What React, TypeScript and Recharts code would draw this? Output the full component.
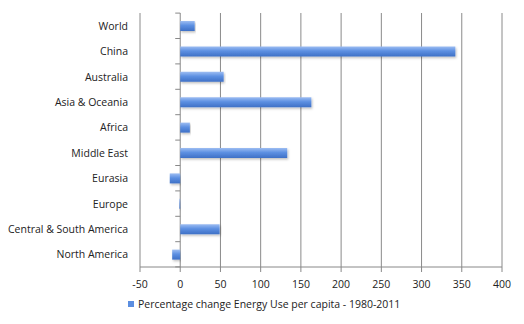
import React from "react";
import {
  BarChart,
  Bar,
  XAxis,
  YAxis,
  CartesianGrid,
  Legend,
} from "recharts";

const regions = [
  "World",
  "China",
  "Australia",
  "Asia & Oceania",
  "Africa",
  "Middle East",
  "Eurasia",
  "Europe",
  "Central & South America",
  "North America",
];

const changePct = [18, 342, 54, 163, 12, 133, -13, -1, 49, -10];

const xTicks = [-50, 0, 50, 100, 150, 200, 250, 300, 350, 400];

const seriesName = "Percentage change Energy Use per capita - 1980-2011";

const data = regions.map((name, i) => ({ name, value: changePct[i] }));

const FONT = "'Open Sans', 'DejaVu Sans', sans-serif";
const FS = 10.5;

const W = 524;
const H = 324;
const M = { top: 13, right: 22, left: 0, bottom: 13 };
const Y_W = 140;
const X_H = 30;
const PLOT_W = W - M.left - M.right - Y_W;
const ZERO_X = M.left + Y_W + (PLOT_W * (0 - xTicks[0])) / (xTicks[xTicks.length - 1] - xTicks[0]);

function CategoryTick(props: any) {
  const { x, y, payload, index } = props;
  const band = 25.2;
  return (
    <g>
      <text
        x={x - 4}
        y={y}
        dy={4}
        textAnchor="end"
        fill="#222"
        fontSize={FS}
        fontFamily={FONT}
      >
        {payload.value}
      </text>
      <line x1={ZERO_X - 5} x2={ZERO_X} y1={y - band / 2} y2={y - band / 2} stroke="#888" />
      {index === regions.length - 1 && (
        <line x1={ZERO_X - 5} x2={ZERO_X} y1={y + band / 2} y2={y + band / 2} stroke="#888" />
      )}
    </g>
  );
}

function LegendContent() {
  return (
    <div style={{ display: "flex", alignItems: "center", fontFamily: FONT, fontSize: FS, color: "#222" }}>
      <span style={{ width: 6, height: 6, background: "#5b8ee0", marginRight: 4, display: "inline-block" }} />
      <span>{seriesName}</span>
    </div>
  );
}

export default function App() {
  return (
    <div style={{ position: "absolute", left: 0, top: 0, width: W, height: H, background: "#fff" }}>
      <BarChart width={W} height={H} data={data} layout="vertical" margin={M}>
        <defs>
          <linearGradient id="barFill" x1="0" y1="0" x2="0" y2="1">
            <stop offset="0%" stopColor="#9dbdf2" />
            <stop offset="45%" stopColor="#5d90e2" />
            <stop offset="100%" stopColor="#3e70c6" />
          </linearGradient>
          <filter id="barShadow" x="-5%" y="-30%" width="110%" height="180%">
            <feDropShadow dx="1" dy="1.5" stdDeviation="1" floodColor="#000" floodOpacity="0.25" />
          </filter>
        </defs>
        <CartesianGrid horizontal={false} stroke="#8a8a8a" />
        <XAxis
          type="number"
          domain={[-50, 400]}
          ticks={xTicks}
          height={X_H}
          interval={0}
          tick={{ fill: "#222", fontSize: FS, fontFamily: FONT }}
          tickLine={{ stroke: "#888" }}
          axisLine={{ stroke: "#888" }}
          tickSize={5}
          tickMargin={9}
        />
        <YAxis
          type="category"
          dataKey="name"
          width={Y_W}
          axisLine={false}
          tickLine={false}
          interval={0}
          tick={<CategoryTick />}
        />
        <Legend
          verticalAlign="bottom"
          content={<LegendContent />}
          wrapperStyle={{ left: 128, width: 380 }}
        />
        <Bar
          dataKey="value"
          name={seriesName}
          fill="url(#barFill)"
          barSize={10}
          filter="url(#barShadow)"
          isAnimationActive={false}
        />
      </BarChart>
    </div>
  );
}
